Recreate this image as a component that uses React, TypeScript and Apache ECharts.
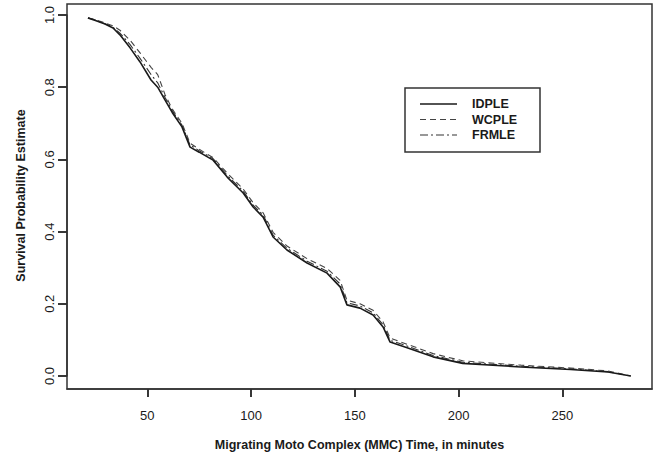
import React, { useEffect, useRef } from "react";
import * as echarts from "echarts";

const times = [21.4, 25, 29.6, 33.5, 36.8, 41.7, 46.5, 51.8, 55, 58.5, 62, 66.7, 70.6, 75, 81.7, 88.5, 96.2, 101, 105.8, 110.6, 117.3, 127, 136.6, 142.9, 146.2, 152.5, 158.8, 163.6, 167, 175.2, 187.7, 202, 230, 254, 272, 283];
const idple = [0.992, 0.985, 0.975, 0.964, 0.945, 0.909, 0.87, 0.82, 0.8, 0.765, 0.73, 0.69, 0.634, 0.62, 0.598, 0.551, 0.507, 0.468, 0.44, 0.385, 0.349, 0.313, 0.285, 0.247, 0.197, 0.188, 0.169, 0.136, 0.094, 0.078, 0.053, 0.035, 0.025, 0.018, 0.011, 0.0];
const wcple = [0.992, 0.987, 0.978, 0.97, 0.958, 0.93, 0.895, 0.855, 0.835, 0.78, 0.74, 0.7, 0.645, 0.628, 0.605, 0.562, 0.518, 0.48, 0.452, 0.398, 0.36, 0.325, 0.298, 0.265, 0.21, 0.2, 0.182, 0.15, 0.105, 0.088, 0.062, 0.042, 0.03, 0.022, 0.014, 0.0];
const frmle = [0.992, 0.986, 0.976, 0.966, 0.95, 0.918, 0.88, 0.835, 0.812, 0.772, 0.735, 0.695, 0.64, 0.624, 0.602, 0.556, 0.512, 0.473, 0.446, 0.39, 0.354, 0.318, 0.29, 0.255, 0.203, 0.194, 0.175, 0.142, 0.099, 0.083, 0.057, 0.038, 0.027, 0.02, 0.012, 0.0];

const xTicks = [50, 100, 150, 200, 250];
const seriesNames = ["IDPLE", "WCPLE", "FRMLE"];

const FONT = "'Liberation Sans', Arial, sans-serif";

export default function App() {
  const ref = useRef<HTMLDivElement>(null);
  useEffect(() => {
    if (!ref.current) return;
    const chart = echarts.init(ref.current, null, { renderer: "svg" });
    const pairs = (ys: number[]) => times.map((t, i) => [t, ys[i]]);
    const styles: any[] = [
      { type: "solid", width: 1.6, color: "#1a1a1a" },
      { type: [6, 4], width: 1.1, color: "#444" },
      { type: [8, 3, 2, 3], width: 1.1, color: "#333" },
    ];
    const datas = [idple, wcple, frmle];
    const legendX = 405;
    const legendY = 88;
    const legendRows = [104, 119.5, 135];
    const graphics: any[] = [
      {
        type: "rect",
        shape: { x: 67, y: 4, width: 585, height: 385 },
        style: { fill: "none", stroke: "#333", lineWidth: 1.5 },
        z: 10,
        silent: true,
      },
      {
        type: "rect",
        shape: { x: legendX, y: legendY, width: 135, height: 64 },
        style: { fill: "#fff", stroke: "#333", lineWidth: 1.5 },
        z: 10,
      },
    ];
    seriesNames.forEach((name, i) => {
      const s = styles[i];
      graphics.push({
        type: "line",
        shape: { x1: 420, y1: legendRows[i], x2: 457, y2: legendRows[i] },
        style: {
          stroke: s.color,
          lineWidth: s.width,
          lineDash: Array.isArray(s.type) ? s.type : null,
        },
        z: 11,
      });
      graphics.push({
        type: "text",
        x: 472,
        y: legendRows[i],
        style: {
          text: name,
          fill: "#1a1a1a",
          font: `bold 12.5px ${FONT}`,
          verticalAlign: "middle",
          align: "left",
        },
        z: 11,
      });
    });
    const axisText = { fontSize: 13, color: "#1a1a1a", fontFamily: FONT };
    const titleText = { fontSize: 12.5, fontWeight: "bold", color: "#1a1a1a", fontFamily: FONT };
    chart.setOption({
      animation: false,
      backgroundColor: "#fff",
      grid: {
        left: 67,
        right: 7,
        top: 15,
        bottom: 76,
        show: false,
        containLabel: false,
        outerBoundsMode: "none",
      },
      graphic: graphics,
      xAxis: {
        type: "value",
        min: 11.3,
        max: 293.2,
        offset: 13,
        splitLine: { show: false },
        axisLine: { show: true, onZero: false, lineStyle: { color: "#333", width: 1.5 } },
        axisTick: {
          show: true,
          customValues: xTicks,
          length: 8,
          inside: false,
          lineStyle: { color: "#222", width: 1.8 },
        },
        axisLabel: {
          customValues: xTicks,
          margin: 20,
          ...axisText,
        },
        name: "Migrating Moto Complex (MMC) Time, in minutes",
        nameLocation: "middle",
        nameGap: 49,
        nameTextStyle: titleText,
      },
      yAxis: {
        type: "value",
        min: 0,
        max: 1,
        interval: 0.2,
        splitLine: { show: false },
        axisLine: { show: true, onZero: false, lineStyle: { color: "#333", width: 1.5 } },
        axisTick: {
          show: true,
          length: 9,
          inside: false,
          lineStyle: { color: "#222", width: 1.8 },
        },
        axisLabel: {
          rotate: 90,
          margin: 11,
          ...axisText,
          formatter: (v: number) => v.toFixed(1),
        },
        name: "Survival Probability Estimate",
        nameLocation: "middle",
        nameGap: 40,
        nameTextStyle: titleText,
      },
      series: seriesNames.map((name, i) => ({
        name,
        type: "line",
        data: pairs(datas[i]),
        showSymbol: false,
        symbol: "none",
        clip: false,
        lineStyle: styles[i],
        itemStyle: { color: styles[i].color },
        z: 3 - i,
      })),
    });
    return () => chart.dispose();
  }, []);
  return (
    <div
      ref={ref}
      style={{ position: "absolute", left: 0, top: 0, width: 659, height: 452 }}
    />
  );
}
